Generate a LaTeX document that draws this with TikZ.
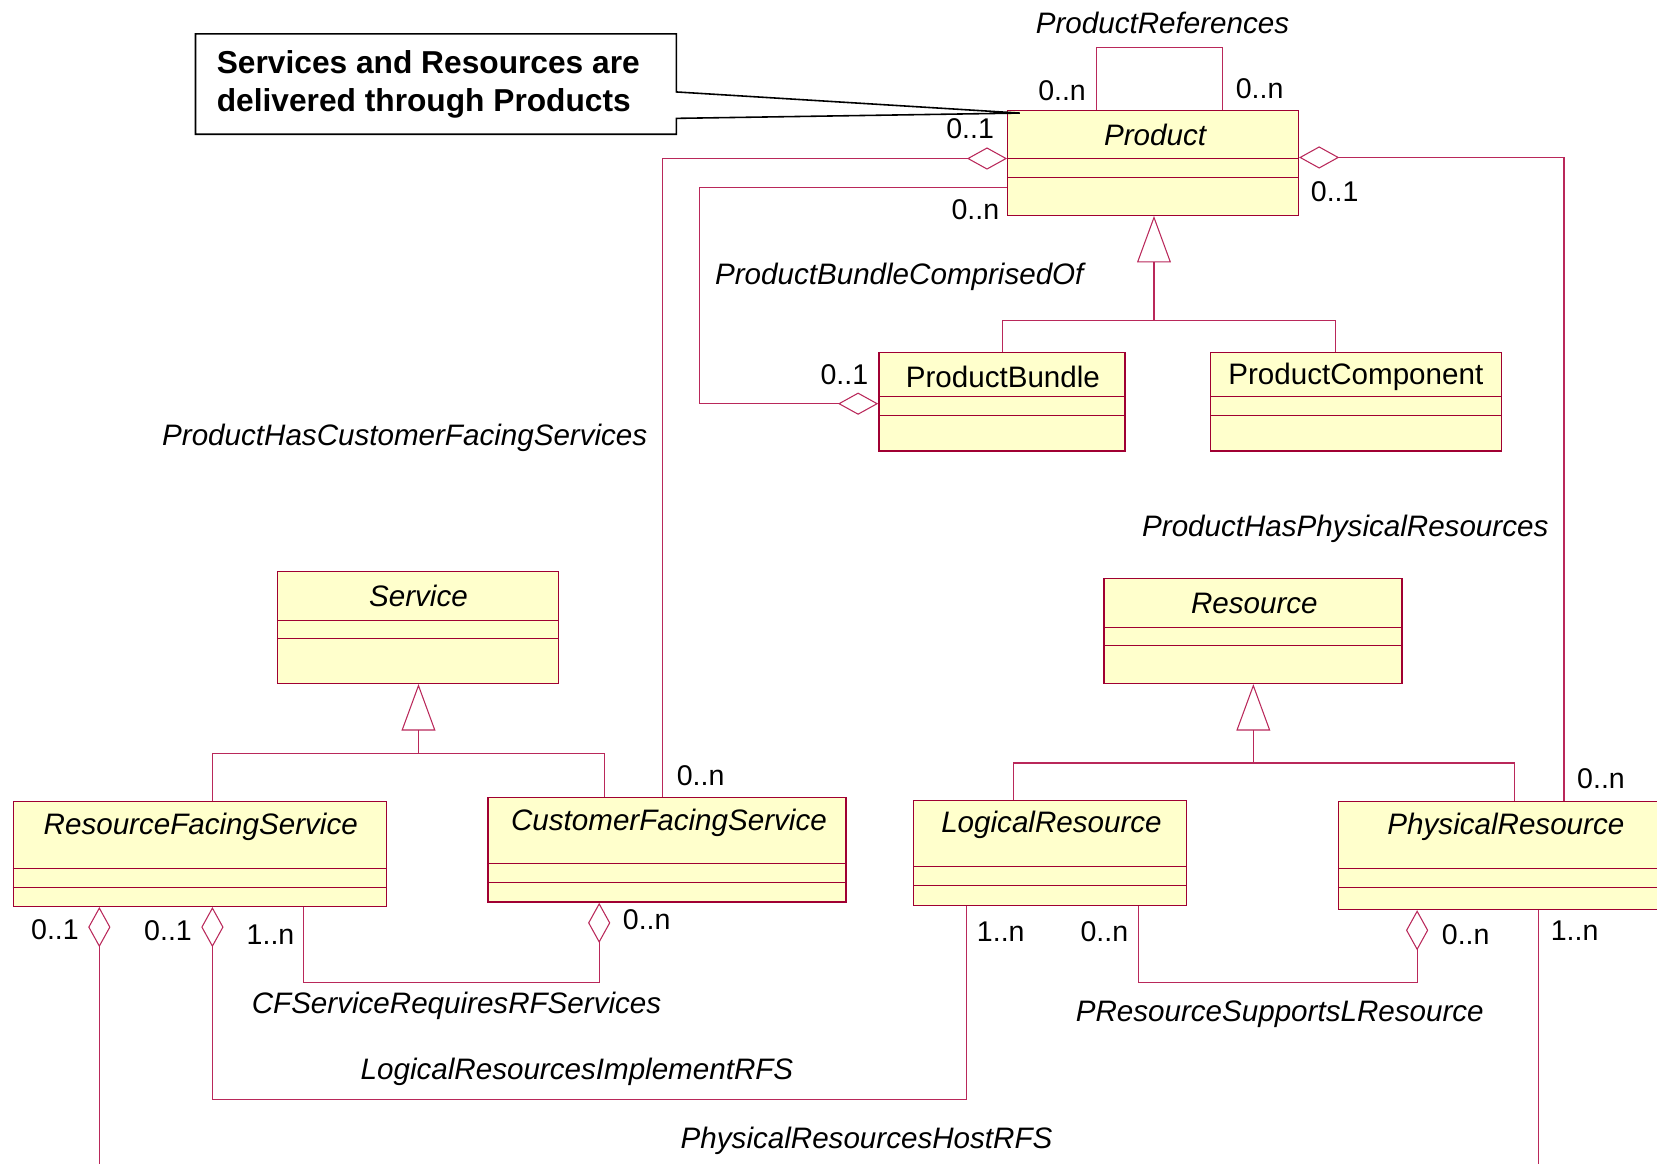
\documentclass[tikz,border=0pt]{standalone}
\usepackage{fontspec}
\setmainfont{Liberation Sans}
\usetikzlibrary{arrows.meta}

\definecolor{umlborder}{RGB}{160,0,50}
\definecolor{umlline}{RGB}{185,40,90}
\definecolor{umlfill}{RGB}{255,255,204}

\tikzset{
  classbox/.style={draw=umlborder, fill=umlfill, line width=1.3pt, inner sep=0pt, anchor=north west},
  compart/.style={draw=umlborder, line width=1pt},
  assoc/.style={draw=umlline, line width=1pt},
  aggstart/.style={assoc, arrows={Diamond[open, length=38pt, width=21pt]-}},
  aggend/.style={assoc, arrows={-Diamond[open, length=38pt, width=21pt]}},
  inherit/.style={assoc, arrows={-Triangle[open, length=44pt, width=32pt]}},
  clsname/.style={inner sep=0pt, font=\fontsize{28}{32}\selectfont\itshape},
  clsplain/.style={inner sep=0pt, font=\fontsize{28}{32}\selectfont},
  assoclabel/.style={inner sep=0pt, font=\fontsize{28}{32}\selectfont\itshape},
  mult/.style={inner sep=0pt, font=\fontsize{27}{30}\selectfont},
  notebox/.style={draw=black, line width=1.5pt}
}

\begin{document}
\begin{tikzpicture}[x=1pt,y=1pt,yscale=-1,xscale=1]
\path[use as bounding box] (0,0) rectangle (1568,1101);
\clip (0,0) rectangle (1568,1101);

%Shape: Class Product
\node[classbox, minimum width=275pt, minimum height=99pt] (product) at (953,104) {};
\draw[compart] (product.west |- 0,150) -- (product.east |- 0,150);
\draw[compart] (product.west |- 0,168) -- (product.east |- 0,168);
% Text Node
\node[clsname] (productname) at (1093,128) {Product};

%Shape: Class ProductBundle
\node[classbox, minimum width=233pt, minimum height=93pt] (pbundle) at (831,333) {};
\draw[compart] (pbundle.west |- 0,375) -- (pbundle.east |- 0,375);
\draw[compart] (pbundle.west |- 0,393) -- (pbundle.east |- 0,393);
% Text Node
\node[clsplain] (pbundlename) at (949,357) {ProductBundle};

%Shape: Class ProductComponent
\node[classbox, minimum width=275pt, minimum height=93pt] (pcomp) at (1145,333) {};
\draw[compart] (pcomp.west |- 0,375) -- (pcomp.east |- 0,375);
\draw[compart] (pcomp.west |- 0,393) -- (pcomp.east |- 0,393);
% Text Node
\node[clsplain] (pcompname) at (1283,357) {ProductComponent};

%Shape: Class Service
\node[classbox, minimum width=266pt, minimum height=106pt] (service) at (262,540) {};
\draw[compart] (service.west |- 0,587) -- (service.east |- 0,587);
\draw[compart] (service.west |- 0,604) -- (service.east |- 0,604);
% Text Node
\node[clsname] (servicename) at (396,564) {Service};

%Shape: Class Resource
\node[classbox, minimum width=282pt, minimum height=99pt] (resource) at (1044,547) {};
\draw[compart] (resource.west |- 0,594) -- (resource.east |- 0,594);
\draw[compart] (resource.west |- 0,611) -- (resource.east |- 0,611);
% Text Node
\node[clsname] (resourcename) at (1187,571) {Resource};

%Shape: Class ResourceFacingService
\node[classbox, minimum width=353pt, minimum height=99pt] (rfs) at (12,758) {};
\draw[compart] (rfs.west |- 0,822) -- (rfs.east |- 0,822);
\draw[compart] (rfs.west |- 0,840) -- (rfs.east |- 0,840);
% Text Node
\node[clsname] (rfsname) at (190,782) {ResourceFacingService};

%Shape: Class CustomerFacingService
\node[classbox, minimum width=339pt, minimum height=99pt] (cfs) at (461,754) {};
\draw[compart] (cfs.west |- 0,817) -- (cfs.east |- 0,817);
\draw[compart] (cfs.west |- 0,835) -- (cfs.east |- 0,835);
% Text Node
\node[clsname] (cfsname) at (633,779) {CustomerFacingService};

%Shape: Class LogicalResource
\node[classbox, minimum width=258pt, minimum height=99pt] (logres) at (864,757) {};
\draw[compart] (logres.west |- 0,820) -- (logres.east |- 0,820);
\draw[compart] (logres.west |- 0,838) -- (logres.east |- 0,838);
% Text Node
\node[clsname] (logresname) at (995,781) {LogicalResource};

%Shape: Class PhysicalResource
\node[classbox, minimum width=320pt, minimum height=102pt] (physres) at (1266,758) {};
\draw[compart] (physres.west |- 0,822) -- (physres.east |- 0,822);
\draw[compart] (physres.west |- 0,840) -- (physres.east |- 0,840);
% Text Node
\node[clsname] (physresname) at (1425,782) {PhysicalResource};

%Straight Lines: ProductReferences
\draw[assoc] (1038,0 |- product.north) -- (1038,45) -- (1157,45) -- (1157,0 |- product.north);

%Straight Lines: ProductHasCustomerFacingServices
\draw[aggstart] (product.west |- 0,150) -- (627,150) -- (627,0 |- cfs.north);

%Straight Lines: ProductBundleComprisedOf
\draw[aggend] (product.west |- 0,177) -- (662,177) -- (662,382) -- (pbundle.west |- 0,382);

%Straight Lines: ProductHasPhysicalResources
\draw[aggstart] (product.east |- 0,149) -- (1480,149) -- (1480,0 |- physres.north);

%Straight Lines: Product generalization
\coordinate (pbus) at (1092,303);
\draw[inherit] (pbus) -- (1092,0 |- product.south);
\draw[assoc] (949,0 |- pbundle.north) -- (949,303) -- (1264,303) -- (1264,0 |- pcomp.north);

%Straight Lines: Service generalization
\coordinate (sbus) at (396,713);
\draw[inherit] (sbus) -- (396,0 |- service.south);
\draw[assoc] (201,0 |- rfs.north) -- (201,713) -- (572,713) -- (572,0 |- cfs.north);

%Straight Lines: Resource generalization
\coordinate (rbus) at (1186,722);
\draw[inherit] (rbus) -- (1186,0 |- resource.south);
\draw[assoc] (959,0 |- logres.north) -- (959,722) -- (1433,722) -- (1433,0 |- physres.north);

%Straight Lines: CFServiceRequiresRFServices
\draw[aggend] (287,0 |- rfs.south) -- (287,930) -- (567,930) -- (567,0 |- cfs.south);

%Straight Lines: LogicalResourcesImplementRFS
\draw[aggstart] (201,0 |- rfs.south) -- (201,1040) -- (915,1040) -- (915,0 |- logres.south);

%Straight Lines: PResourceSupportsLResource
\draw[aggend] (1077,0 |- logres.south) -- (1077,930) -- (1341,930) -- (1341,0 |- physres.south);

%Straight Lines: PhysicalResourcesHostRFS
\coordinate (hostrfs) at (94,1110);
\coordinate (hostpr) at (1456,1110);
\draw[aggstart] (94,0 |- rfs.south) -- (hostrfs);
\draw[assoc] (1456,0 |- physres.south) -- (hostpr);

%Shape: Note
\draw[notebox] (185,32) -- (640,32) -- (640,87) -- (965,107) -- (640,112) -- (640,127) -- (185,127) -- cycle;
% Text Node
\node[anchor=west, align=left, inner sep=0pt, font=\fontsize{30}{36}\selectfont\bfseries] (note) at (205,80) {Services and Resources are\\delivered through Products};

% Text Node
\node[assoclabel] (lblrefs) at (1100,22) {ProductReferences};
% Text Node
\node[assoclabel] (lblbundle) at (851,262) {ProductBundleComprisedOf};
% Text Node
\node[assoclabel] (lblpcfs) at (383,414) {ProductHasCustomerFacingServices};
% Text Node
\node[assoclabel] (lblppr) at (1273,500) {ProductHasPhysicalResources};
% Text Node
\node[assoclabel] (lblcfsrfs) at (432,952) {CFServiceRequiresRFServices};
% Text Node
\node[assoclabel] (lblprlr) at (1211,960) {PResourceSupportsLResource};
% Text Node
\node[assoclabel] (lbllrrfs) at (546,1014) {LogicalResourcesImplementRFS};
% Text Node
\node[assoclabel] (lblprrfs) at (820,1080) {PhysicalResourcesHostRFS};

% Text Node
\node[mult] (m1) at (1005,86) {0..n};
% Text Node
\node[mult] (m2) at (1192,84) {0..n};
% Text Node
\node[mult] (m3) at (918,122) {0..1};
% Text Node
\node[mult] (m4) at (923,198) {0..n};
% Text Node
\node[mult] (m5) at (1263,181) {0..1};
% Text Node
\node[mult] (m6) at (799,355) {0..1};
% Text Node
\node[mult] (m7) at (663,734) {0..n};
% Text Node
\node[mult] (m8) at (1515,737) {0..n};
% Text Node
\node[mult] (m9) at (52,880) {0..1};
% Text Node
\node[mult] (m10) at (159,881) {0..1};
% Text Node
\node[mult] (m11) at (256,884) {1..n};
% Text Node
\node[mult] (m12) at (612,870) {0..n};
% Text Node
\node[mult] (m13) at (947,882) {1..n};
% Text Node
\node[mult] (m14) at (1045,882) {0..n};
% Text Node
\node[mult] (m15) at (1387,884) {0..n};
% Text Node
\node[mult] (m16) at (1490,881) {1..n};

\end{tikzpicture}
\end{document}
